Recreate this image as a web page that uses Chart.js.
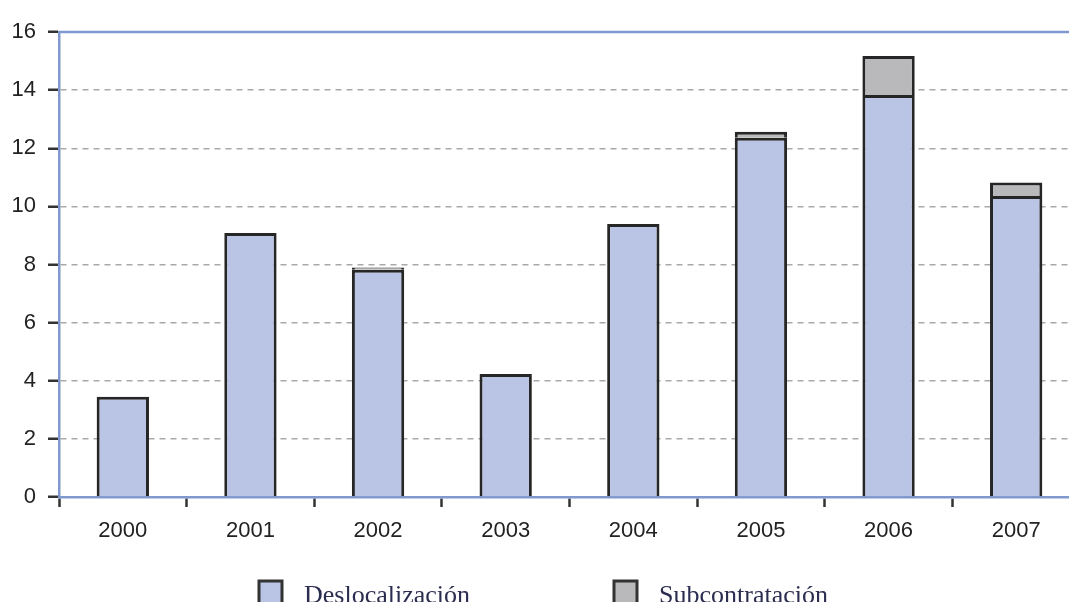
<!DOCTYPE html>
<html>
<head>
<meta charset="utf-8">
<script src="https://cdn.jsdelivr.net/npm/chart.js@4.4.1/dist/chart.umd.min.js"></script>
<style>
  html, body { margin: 0; padding: 0; background: #fff; overflow: hidden; }
  #wrap { width: 1088px; height: 602px; position: relative; }
</style>
</head>
<body>
<div id="wrap"><canvas id="chart" width="1088" height="602"></canvas></div>
<script>
// Data
const years = ['2000', '2001', '2002', '2003', '2004', '2005', '2006', '2007'];
const deslocalizacion = [3.45, 9.08, 7.82, 4.23, 9.39, 12.36, 13.83, 10.36];
const subcontratacion = [0, 0, 0.08, 0, 0, 0.21, 1.34, 0.46];
const yTicks = [0, 2, 4, 6, 8, 10, 12, 14, 16];

const axisBlue = '#7f99cf';
const fillBlue = '#bac4e4';
const fillGrey = '#b9b9bc';
const edge = '#262626';

// Legend drawn under the axis, like the original layout
const bottomLegend = {
    id: 'bottomLegend',
    afterDraw(chart) {
        const ctx = chart.ctx;
        const items = [
            { x: 259, label: chart.data.datasets[0].label, color: fillBlue },
            { x: 614, label: chart.data.datasets[1].label, color: fillGrey }
        ];
        ctx.save();
        items.forEach(it => {
            ctx.fillStyle = it.color;
            ctx.fillRect(it.x, 581, 23, 24);
            ctx.strokeStyle = '#333';
            ctx.lineWidth = 3;
            ctx.strokeRect(it.x, 581, 23, 24);
            ctx.fillStyle = '#2b2d50';
            ctx.font = '26px "Liberation Serif", serif';
            ctx.textBaseline = 'alphabetic';
            ctx.fillText(it.label, it.x + 45, 603);
        });
        ctx.restore();
    }
};

// Top frame line at 16
const topLine = {
    id: 'topLine',
    afterDraw(chart) {
        const a = chart.chartArea;
        const y = chart.scales.y.getPixelForValue(16);
        const ctx = chart.ctx;
        ctx.save();
        ctx.strokeStyle = axisBlue;
        ctx.lineWidth = 2.5;
        ctx.beginPath();
        ctx.moveTo(a.left, y);
        ctx.lineTo(a.right, y);
        ctx.stroke();
        ctx.restore();
    }
};

new Chart(document.getElementById('chart'), {
    type: 'bar',
    data: {
        labels: years,
        datasets: [{
            label: 'Deslocalización',
            data: deslocalizacion,
            backgroundColor: fillBlue,
            borderColor: edge,
            borderWidth: 3,
            barPercentage: 0.41,
            categoryPercentage: 1
        }, {
            label: 'Subcontratación',
            data: subcontratacion,
            backgroundColor: fillGrey,
            borderColor: edge,
            borderWidth: 3,
            barPercentage: 0.41,
            categoryPercentage: 1
        }]
    },
    options: {
        responsive: false,
        animation: false,
        layout: { padding: { top: 32, right: 8, left: 0, bottom: 0 } },
        plugins: {
            legend: { display: false },
            tooltip: { enabled: false }
        },
        scales: {
            x: {
                stacked: true,
                afterFit: s => { s.height = 105; },
                grid: {
                    offset: true,
                    drawOnChartArea: false,
                    tickLength: 10,
                    tickColor: '#333',
                    tickWidth: 2.5
                },
                border: { color: axisBlue, width: 2.5 },
                ticks: {
                    padding: 11,
                    color: '#222',
                    font: { family: '"Liberation Sans", Arial, sans-serif', size: 22 }
                }
            },
            y: {
                stacked: true,
                min: 0,
                max: 16,
                afterFit: s => { s.width = 59; },
                afterBuildTicks: s => { s.ticks = yTicks.map(v => ({ value: v })); },
                grid: {
                    color: ctx => (ctx.tick && (ctx.tick.value === 0 || ctx.tick.value === 16)) ? 'rgba(0,0,0,0)' : '#a9a9a9',
                    lineWidth: 1.5,
                    tickLength: 11,
                    tickColor: '#333',
                    tickWidth: 2.5
                },
                border: { color: axisBlue, width: 2.5, dash: [6, 5] },
                ticks: {
                    padding: 12,
                    color: '#222',
                    font: { family: '"Liberation Sans", Arial, sans-serif', size: 22 }
                }
            }
        }
    },
    plugins: [topLine, bottomLegend]
});
</script>
</body>
</html>
